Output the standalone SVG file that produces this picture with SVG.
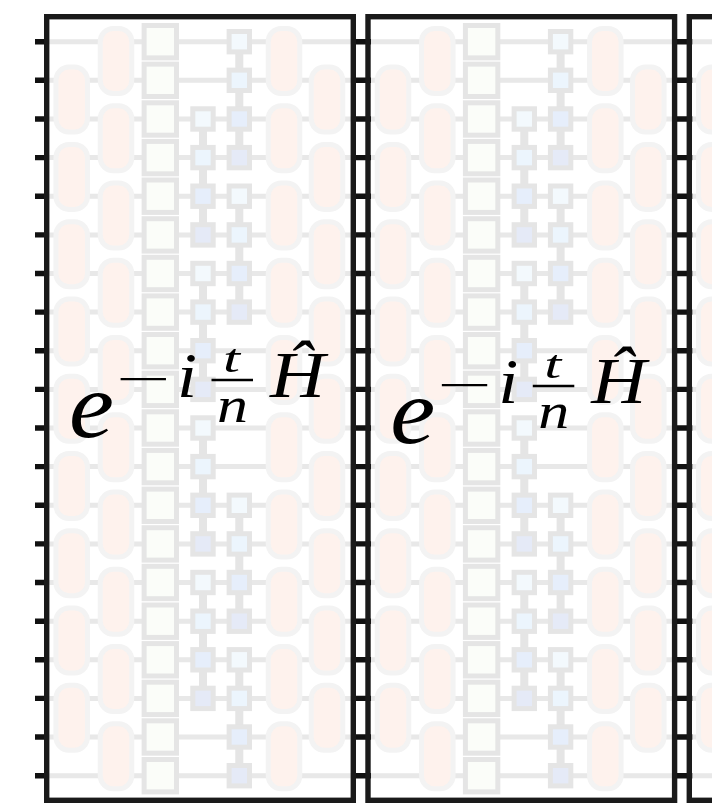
<svg xmlns="http://www.w3.org/2000/svg" width="712" height="810" viewBox="0 0 712 810">
<style>
.wire{stroke:#e8e8e8;stroke-width:5;fill:none}
.tick{stroke:#111;stroke-width:5.4;fill:none}
.frame{stroke:#1a1a1a;stroke-width:5.4;fill:none}
.link{stroke:#e5e5e5;stroke-width:8;fill:none}
.oval{fill:#fef2ed;stroke:#f3f3f3;stroke-width:5}
.big{fill:#fbfdf9;stroke:#e5e5e5;stroke-width:5}
.s{stroke:#e5e5e5;stroke-width:5}
.s1{fill:#f3f9fd}.s2{fill:#ecf5fd}.s3{fill:#e6eefb}.s4{fill:#e5eaf7}
.m{font-family:"Liberation Serif",serif;font-style:italic;fill:#000}
.u{font-family:"Liberation Serif",serif;fill:#000}
.bar{stroke:#000;stroke-width:2.5}
</style>
<defs>
<rect id="o" x="-15.75" y="-32.5" width="31.5" height="65" rx="13" class="oval"/>
<rect id="b" x="-16.2" y="-16.2" width="32.4" height="32.4" class="big"/>
<rect id="q" x="-10.2" y="-10.2" width="20.4" height="20.4" class="s"/>
<g id="wires">
<path class="wire" d="M47 41.7H354M47 80.3H354M47 119H354M47 157.6H354M47 196.2H354M47 234.9H354M47 273.5H354M47 312.1H354M47 350.7H354M47 389.4H354M47 428H354M47 466.6H354M47 505.3H354M47 543.9H354M47 582.5H354M47 621.2H354M47 659.8H354M47 698.4H354M47 737H354M47 775.7H354"/>
<path class="link" d="M239.3 41.7V157.6M203 119V234.9M239.3 196.2V312.1M203 273.5V389.4M203 428V543.9M239.3 505.3V621.2M203 582.5V698.4M239.3 659.8V775.7"/>
</g>
<g id="gates">
<g id="ovals-a">
<use href="#o" x="116" y="61"/><use href="#o" x="116" y="138.3"/><use href="#o" x="116" y="215.5"/><use href="#o" x="116" y="292.8"/><use href="#o" x="116" y="370"/><use href="#o" x="116" y="447.3"/><use href="#o" x="116" y="524.6"/><use href="#o" x="116" y="601.8"/><use href="#o" x="116" y="679.1"/><use href="#o" x="116" y="756.3"/>
<use href="#o" x="284" y="61"/><use href="#o" x="284" y="138.3"/><use href="#o" x="284" y="215.5"/><use href="#o" x="284" y="292.8"/><use href="#o" x="284" y="370"/><use href="#o" x="284" y="447.3"/><use href="#o" x="284" y="524.6"/><use href="#o" x="284" y="601.8"/><use href="#o" x="284" y="679.1"/><use href="#o" x="284" y="756.3"/>
</g>
<g id="ovals-b">
<use href="#o" x="71.7" y="99.6"/><use href="#o" x="71.7" y="176.9"/><use href="#o" x="71.7" y="254.2"/><use href="#o" x="71.7" y="331.5"/><use href="#o" x="71.7" y="408.7"/><use href="#o" x="71.7" y="486"/><use href="#o" x="71.7" y="563.2"/><use href="#o" x="71.7" y="640.5"/><use href="#o" x="71.7" y="717.7"/>
<use href="#o" x="327" y="99.6"/><use href="#o" x="327" y="176.9"/><use href="#o" x="327" y="254.2"/><use href="#o" x="327" y="331.5"/><use href="#o" x="327" y="408.7"/><use href="#o" x="327" y="486"/><use href="#o" x="327" y="563.2"/><use href="#o" x="327" y="640.5"/><use href="#o" x="327" y="717.7"/>
</g>
<g id="squares">
<use href="#b" x="160.3" y="41.7"/><use href="#b" x="160.3" y="80.3"/><use href="#b" x="160.3" y="119"/><use href="#b" x="160.3" y="157.6"/><use href="#b" x="160.3" y="196.2"/><use href="#b" x="160.3" y="234.9"/><use href="#b" x="160.3" y="273.5"/><use href="#b" x="160.3" y="312.1"/><use href="#b" x="160.3" y="350.7"/><use href="#b" x="160.3" y="389.4"/><use href="#b" x="160.3" y="428"/><use href="#b" x="160.3" y="466.6"/><use href="#b" x="160.3" y="505.3"/><use href="#b" x="160.3" y="543.9"/><use href="#b" x="160.3" y="582.5"/><use href="#b" x="160.3" y="621.2"/><use href="#b" x="160.3" y="659.8"/><use href="#b" x="160.3" y="698.4"/><use href="#b" x="160.3" y="737"/><use href="#b" x="160.3" y="775.7"/>
</g>
<g id="col4">
<use href="#q" class="s1" x="203" y="119"/><use href="#q" class="s2" x="203" y="157.6"/><use href="#q" class="s3" x="203" y="196.2"/><use href="#q" class="s4" x="203" y="234.9"/>
<use href="#q" class="s1" x="203" y="273.5"/><use href="#q" class="s2" x="203" y="312.1"/><use href="#q" class="s3" x="203" y="350.7"/><use href="#q" class="s4" x="203" y="389.4"/>
<use href="#q" class="s1" x="203" y="428"/><use href="#q" class="s2" x="203" y="466.6"/><use href="#q" class="s3" x="203" y="505.3"/><use href="#q" class="s4" x="203" y="543.9"/>
<use href="#q" class="s1" x="203" y="582.5"/><use href="#q" class="s2" x="203" y="621.2"/><use href="#q" class="s3" x="203" y="659.8"/><use href="#q" class="s4" x="203" y="698.4"/>
</g>
<g id="col5">
<use href="#q" class="s1" x="239.3" y="41.7"/><use href="#q" class="s2" x="239.3" y="80.3"/><use href="#q" class="s3" x="239.3" y="119"/><use href="#q" class="s4" x="239.3" y="157.6"/>
<use href="#q" class="s1" x="239.3" y="196.2"/><use href="#q" class="s2" x="239.3" y="234.9"/><use href="#q" class="s3" x="239.3" y="273.5"/><use href="#q" class="s4" x="239.3" y="312.1"/>
<use href="#q" class="s1" x="239.3" y="505.3"/><use href="#q" class="s2" x="239.3" y="543.9"/><use href="#q" class="s3" x="239.3" y="582.5"/><use href="#q" class="s4" x="239.3" y="621.2"/>
<use href="#q" class="s1" x="239.3" y="659.8"/><use href="#q" class="s2" x="239.3" y="698.4"/><use href="#q" class="s3" x="239.3" y="737"/><use href="#q" class="s4" x="239.3" y="775.7"/>
</g>
</g>
<path id="tk" class="tick" d="M35 41.7H49M35 80.3H49M35 119H49M35 157.6H49M35 196.2H49M35 234.9H49M35 273.5H49M35 312.1H49M35 350.7H49M35 389.4H49M35 428H49M35 466.6H49M35 505.3H49M35 543.9H49M35 582.5H49M35 621.2H49M35 659.8H49M35 698.4H49M35 737H49M35 775.7H49"/>
<path id="tk2" class="tick" d="M351 41.7H371M351 80.3H371M351 119H371M351 157.6H371M351 196.2H371M351 234.9H371M351 273.5H371M351 312.1H371M351 350.7H371M351 389.4H371M351 428H371M351 466.6H371M351 505.3H371M351 543.9H371M351 582.5H371M351 621.2H371M351 659.8H371M351 698.4H371M351 737H371M351 775.7H371"/>
</defs>
<rect width="712" height="810" fill="#fff"/>
<g id="connectors">
<use href="#wires"/><use href="#wires" x="321.3"/><use href="#wires" x="642.6"/>
</g>
<g id="panel-1"><use href="#gates"/></g>
<g id="panel-2"><use href="#gates" x="321.3"/></g>
<g id="panel-3"><use href="#gates" x="642.6"/></g>
<g id="ticks">
<use href="#tk"/><use href="#tk2"/><use href="#tk2" x="321.3"/>
</g>
<g id="frames">
<rect class="frame" x="46.7" y="16.7" width="306.6" height="783.6"/>
<rect class="frame" x="368" y="16.7" width="306.6" height="783.6"/>
<rect class="frame" x="689.3" y="16.7" width="306.6" height="783.6"/>
</g>
<g id="formula-1">
<text class="m" x="69" y="437" font-size="94" textLength="45" lengthAdjust="spacingAndGlyphs">e</text>
<text class="u" x="116" y="394" font-size="44" textLength="55" lengthAdjust="spacingAndGlyphs">−</text>
<text class="m" x="177" y="396.5" font-size="64" textLength="20" lengthAdjust="spacingAndGlyphs">i</text>
<text class="m" x="223" y="372" font-size="40" textLength="17" lengthAdjust="spacingAndGlyphs">t</text>
<line class="bar" x1="211.5" y1="380" x2="253" y2="380"/>
<text class="m" x="217" y="421.5" font-size="50" textLength="31" lengthAdjust="spacingAndGlyphs">n</text>
<text class="m" x="270" y="396.5" font-size="66" textLength="55" lengthAdjust="spacingAndGlyphs">Ĥ</text>
</g>
<g id="formula-2">
<text class="m" x="390.3" y="443" font-size="94" textLength="45" lengthAdjust="spacingAndGlyphs">e</text>
<text class="u" x="437.3" y="400" font-size="44" textLength="55" lengthAdjust="spacingAndGlyphs">−</text>
<text class="m" x="498.3" y="402.5" font-size="64" textLength="20" lengthAdjust="spacingAndGlyphs">i</text>
<text class="m" x="544.3" y="378" font-size="40" textLength="17" lengthAdjust="spacingAndGlyphs">t</text>
<line class="bar" x1="532.8" y1="386" x2="574.3" y2="386"/>
<text class="m" x="538.3" y="427.5" font-size="50" textLength="31" lengthAdjust="spacingAndGlyphs">n</text>
<text class="m" x="591.3" y="402.5" font-size="66" textLength="55" lengthAdjust="spacingAndGlyphs">Ĥ</text>
</g>
</svg>
